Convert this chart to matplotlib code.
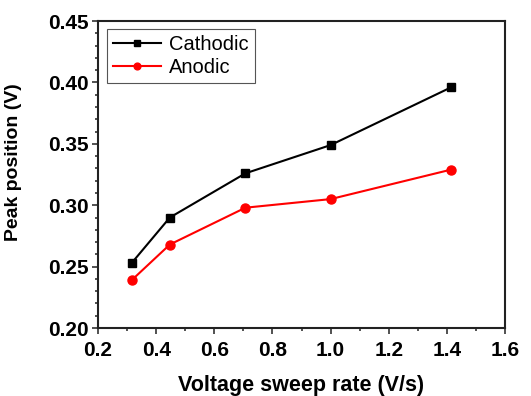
import matplotlib.pyplot as plt
from matplotlib.ticker import MultipleLocator

# sweep rate axis is sqrt of scan rate (0.1, 0.2, 0.5, 1, 2 V/s)
rate = [0.316, 0.447, 0.707, 1.0, 1.414]
cathodic = [0.253, 0.290, 0.326, 0.349, 0.396]
anodic = [0.239, 0.268, 0.298, 0.305, 0.329]

plt.rcParams['font.family'] = ['Liberation Sans', 'DejaVu Sans']

fig = plt.figure(figsize=(5.31, 3.96), dpi=100)
ax = fig.add_axes([0.1846, 0.1717, 0.7665, 0.775])

ax.plot(rate, cathodic, color='black', marker='s', markersize=6, linewidth=1.5, label='Cathodic')
ax.plot(rate, anodic, color='red', marker='o', markersize=6.5, linewidth=1.5, label='Anodic')

ax.set_xlim(0.2, 1.6)
ax.set_ylim(0.20, 0.45)
ax.xaxis.set_major_locator(MultipleLocator(0.2))
ax.xaxis.set_minor_locator(MultipleLocator(0.1))
ax.yaxis.set_major_locator(MultipleLocator(0.05))
ax.yaxis.set_minor_locator(MultipleLocator(0.01))
ax.set_xticklabels([f'{v:.1f}' for v in ax.get_xticks()])
ax.set_yticklabels([f'{v:.2f}' for v in ax.get_yticks()])

ax.tick_params(which='both', direction='out', top=False, right=False, width=1.2, color='#333333')
ax.tick_params(which='major', length=4, labelsize=15, pad=3)
ax.tick_params(axis='x', which='major', pad=5)
ax.tick_params(which='minor', length=2.5)
for lbl in ax.get_xticklabels() + ax.get_yticklabels():
    lbl.set_fontweight('bold')
for s in ax.spines.values():
    s.set_linewidth(1.5)
    s.set_color('#222222')

ax.set_xlabel('Voltage sweep rate (V/s)', fontsize=15.5, fontweight='bold', labelpad=11)
ax.set_ylabel('Peak position (V)', fontsize=14, fontweight='bold')
ax.yaxis.set_label_coords(-0.187, 0.54)

leg = ax.legend(loc='upper left', fontsize=14.5, fancybox=False, edgecolor='#555555',
                framealpha=1, handlelength=2.4, handletextpad=0.4, borderpad=0.3,
                labelspacing=0.2, markerscale=0.75, borderaxespad=0,
                bbox_to_anchor=(0.022, 0.975))
leg.get_frame().set_linewidth(0.8)

fig.savefig('out.png', dpi=100)
